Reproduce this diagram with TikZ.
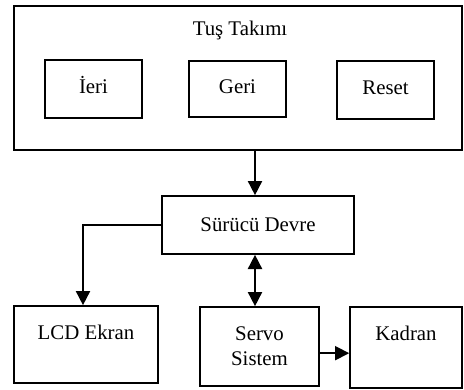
\documentclass[tikz,border=0pt]{standalone}
\usepackage{fontspec}
\setmainfont{Liberation Serif}
\usetikzlibrary{arrows.meta}
\tikzset{
  blok/.style={draw, line width=1pt, inner sep=0pt, align=center,
    font=\fontsize{12.5}{15}\selectfont},
  tus/.style={blok, minimum width=58.2pt, text height=9pt, text depth=4pt},
  yazi/.style={inner sep=0pt, font=\fontsize{12.5}{15}\selectfont},
  ok/.style={line width=1pt, -{Triangle[length=8.5pt,width=8.5pt]}},
  ciftok/.style={line width=1pt,
    {Triangle[length=8.5pt,width=8.5pt]}-{Triangle[length=8.5pt,width=8.5pt]}},
}
\begin{document}
\begin{tikzpicture}[x=0.6pt,y=-0.6pt]
  \useasboundingbox (0,0) rectangle (464,389);
  % tus takimi
  \node [blok, minimum width=268.8pt, minimum height=86.4pt] (tuslar) at (238,78) {};
  \node [yazi] (tusyazi) at (240,30) {Tuş Takımı};
  \node [tus, minimum height=34.8pt] (ieri) at (93.5,89) {İeri};
  \node [tus, minimum height=33.6pt] (geri) at (237.5,89) {Geri};
  \node [tus, minimum height=34.8pt] (reset) at (385.5,90) {Reset};
  % surucu ve cikislar
  \node [blok, minimum width=115.2pt, minimum height=34.8pt] (surucu) at (258,225) {Sürücü Devre};
  \node [blok, minimum width=86.4pt, minimum height=46.2pt] (lcd) at (86,344.5) {};
  \node [yazi] (lcdyazi) at (86,332) {LCD Ekran};
  \node [blok, minimum width=71.4pt, minimum height=47.4pt] (servo) at (259.5,346.5) {Servo\\Sistem};
  \node [blok, minimum width=67.2pt, minimum height=48.6pt] (kadran) at (406,347.5) {};
  \node [yazi] (kadranyazi) at (406,333) {Kadran};
  % baglantilar
  \draw [ok] (tuslar.south -| 255,0) -- (surucu.north -| 255,0);
  \draw [ok] (surucu.west) -- (surucu.west -| 83,0) -- (lcd.north -| 83,0);
  \draw [ciftok] (surucu.south -| 255,0) -- (servo.north -| 255,0);
  \draw [ok] ([yshift=-4pt]servo.east) -- ([yshift=-4pt]servo.east -| kadran.west);
\end{tikzpicture}
\end{document}
